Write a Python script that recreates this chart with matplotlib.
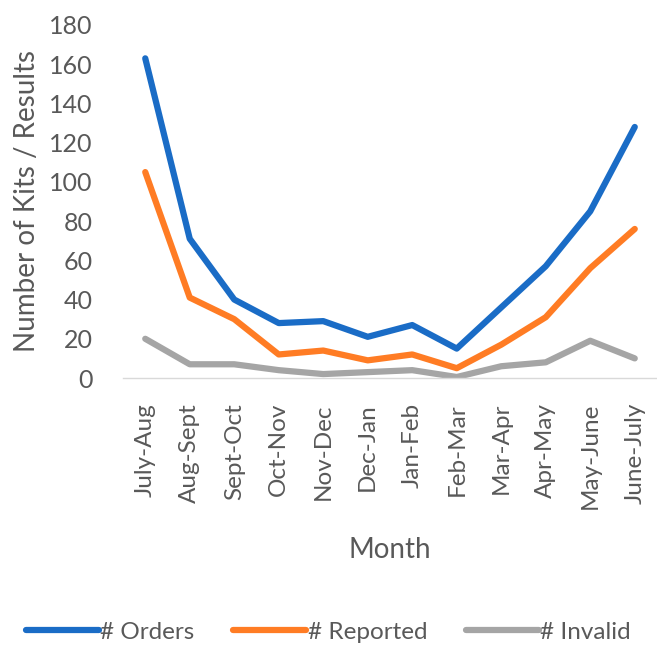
import matplotlib
matplotlib.use('Agg')
import matplotlib.pyplot as plt

months = ["July-Aug", "Aug-Sept", "Sept-Oct", "Oct-Nov", "Nov-Dec", "Dec-Jan",
          "Jan-Feb", "Feb-Mar", "Mar-Apr", "Apr-May", "May-June", "June-July"]
orders = [163, 71, 40, 28, 29, 21, 27, 15, 36, 57, 85, 128]
reported = [105, 41, 30, 12, 14, 9, 12, 5, 17, 31, 56, 76]
invalid = [20, 7, 7, 4, 2, 3, 4, 0.5, 6, 8, 19, 10]

plt.rcParams['font.family'] = ['Lato', 'DejaVu Sans']
TXT = "#595959"

fig = plt.figure(figsize=(6.57, 6.46), dpi=100)
ax = fig.add_axes([123 / 657, 1 - 378 / 646, 534 / 657, 353 / 646])

x = range(len(months))
ax.plot(x, orders, color="#1A6CC6", lw=4.5, label="# Orders", solid_capstyle='round')
ax.plot(x, reported, color="#FF7C24", lw=4.5, label="# Reported", solid_capstyle='round')
ax.plot(x, invalid, color="#A5A5A5", lw=4.5, label="# Invalid", solid_capstyle='round')

ax.set_xlim(-0.5, len(months) - 0.5)
ax.set_ylim(0, 180)
ax.set_yticks(range(0, 181, 20))
ax.set_xticks(list(x))
ax.set_xticklabels(months, rotation=90, fontsize=17.5, color=TXT)
ax.tick_params(axis='y', labelsize=18, colors=TXT, length=0, pad=22)
ax.tick_params(axis='x', length=0, pad=18)

for s in ["top", "right", "left"]:
    ax.spines[s].set_visible(False)
ax.spines["bottom"].set_color("#D9D9D9")
ax.spines["bottom"].set_linewidth(1)

ax.set_ylabel("Number of Kits / Results", fontsize=20, color=TXT, labelpad=6)
ax.set_xlabel("Month", fontsize=20, color=TXT, labelpad=20)

fig.legend(loc="center", bbox_to_anchor=(0.5, 1 - 632 / 646), ncol=3, frameon=False,
           fontsize=17.5, labelcolor=TXT, handlelength=3.0, handletextpad=0.05,
           columnspacing=1.6)

fig.savefig("out.png", dpi=100)
